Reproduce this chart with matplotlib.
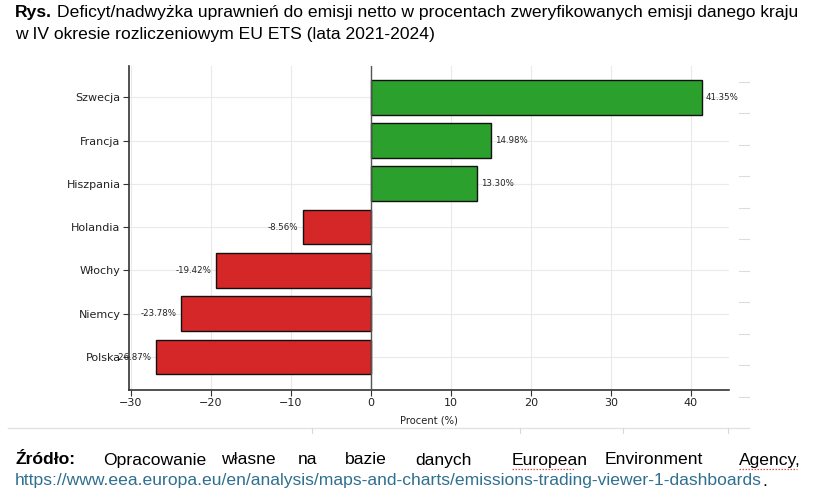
import matplotlib
matplotlib.use("Agg")
import matplotlib.pyplot as plt
from matplotlib.lines import Line2D

countries = ["Polska", "Niemcy", "Włochy", "Holandia", "Hiszpania", "Francja", "Szwecja"]
values = [-26.87, -23.78, -19.42, -8.56, 13.30, 14.98, 41.35]
xticks = [-30, -20, -10, 0, 10, 20, 30, 40]

W, H = 818, 492
fig = plt.figure(figsize=(W/100, H/100), dpi=100)
ax = fig.add_axes([129/W, 1-390/H, 600/W, 324/H])

pos = list(range(len(countries)))
colors = ["#2ca02c" if v > 0 else "#d62728" for v in values]
ax.barh(pos, values, height=0.8, color=colors, edgecolor="#111111", linewidth=1.0, zorder=3)
ax.axvline(0, color="#555555", linewidth=1.0, zorder=4)

for p, v in zip(pos, values):
    if v >= 0:
        ax.text(v + 0.5, p, f"{v:.2f}%", va="center", ha="left", fontsize=6.2, color="#222222", zorder=5)
    else:
        ax.text(v - 0.5, p, f"{v:.2f}%", va="center", ha="right", fontsize=6.2, color="#222222", zorder=5)

ax.set_yticks(pos)
ax.set_yticklabels(countries, fontsize=8, color="#222222")
ax.set_xticks(xticks)
ax.set_xticklabels([f"\u2212{abs(t)}" if t < 0 else str(t) for t in xticks], fontsize=8, color="#222222")
ax.set_xlim(-30.25, 44.75)
ax.set_ylim(-0.76, 6.72)
ax.set_xlabel("Procent (%)", fontsize=7.2, labelpad=5, color="#222222")
ax.grid(True, color="#e8eaee", linewidth=0.8, zorder=0)
for s in ["top", "right"]:
    ax.spines[s].set_visible(False)
for s in ["left", "bottom"]:
    ax.spines[s].set_color("#333333")
    ax.spines[s].set_linewidth(1.2)
ax.tick_params(length=4, color="#333333", pad=2)

# Title (document caption)
tf = ["Liberation Sans", "DejaVu Sans"]
fs = 12.6
fig.text(15/W, 1-13/H, "Rys.", fontsize=fs, fontweight="bold", family=tf, va="center", ha="left")
fig.text(57/W, 1-13/H, "Deficyt/nadwyżka uprawnień do emisji netto w procentach zweryfikowanych emisji danego kraju",
         fontsize=fs, family=tf, va="center", ha="left")
fig.text(15/W, 1-34/H, "w IV okresie rozliczeniowym EU ETS (lata 2021-2024)",
         fontsize=fs, family=tf, va="center", ha="left")

# Source (justified words)
fig.text(15/W, 1-460/H, "Źródło:", fontsize=fs, fontweight="bold", family=tf, va="center", ha="left")
words = ["Opracowanie", "własne", "na", "bazie", "danych", "European", "Environment", "Agency,"]
wx = [103, 221, 298, 345, 415, 512, 605, 739]
for w, x in zip(words, wx):
    fig.text(x/W, 1-460/H, w, fontsize=fs, family=tf, va="center", ha="left")
url = fig.text(15/W, 1-481/H, "https://www.eea.europa.eu/en/analysis/maps-and-charts/emissions-trading-viewer-1-dashboards",
               fontsize=fs, family=tf, va="center", ha="left", color="#2f6f8f")
fig.canvas.draw()
bb = url.get_window_extent()
fig.text(bb.x1/W, 1-481/H, ".", fontsize=fs, family=tf, va="center", ha="left")

# spell-check underlines
for x0, x1 in [(512, 575), (739, 797)]:
    fig.add_artist(Line2D([x0/W, x1/W], [1-469/H, 1-469/H], color="#e05050", linewidth=0.9, linestyle=(0, (1.2, 1.2))))

# faint document frame lines
fig.add_artist(Line2D([8/W, 749/W], [1-428/H, 1-428/H], color="#e2e2e2", linewidth=1.0))
for x in [312, 520, 623, 728]:
    fig.add_artist(Line2D([x/W, x/W], [1-428/H, 1-433/H], color="#d8d8d8", linewidth=0.8))
for y in [82, 113, 145, 176, 208, 239, 271, 302, 334, 365, 397]:
    fig.add_artist(Line2D([739/W, 749/W], [1-y/H, 1-y/H], color="#dcdcdc", linewidth=0.8))

fig.savefig("out.png", dpi=100)
